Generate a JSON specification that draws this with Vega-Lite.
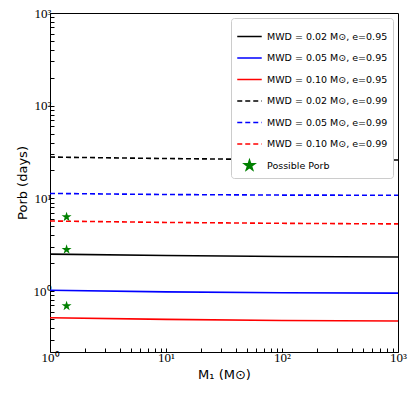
{
  "$schema": "https://vega.github.io/schema/vega-lite/v6.json",
  "width": 348,
  "height": 339,
  "autosize": "none",
  "padding": {"left": 50, "top": 13, "right": 17, "bottom": 46},
  "background": "white",
  "config": {"view": {"stroke": "black"}},
  "encoding": {
    "x": {
      "field": "m1", "type": "quantitative",
      "scale": {"type": "log", "domain": [1, 1000], "nice": false},
      "axis": {
        "orient": "bottom", "grid": false, "domain": false,
        "values": [1,2,3,4,5,6,7,8,9,10,20,30,40,50,60,70,80,90,100,200,300,400,500,600,700,800,900,1000],
        "labelExpr": "datum.value == 1 ? '10⁰' : datum.value == 10 ? '10¹' : datum.value == 100 ? '10²' : datum.value == 1000 ? '10³' : ''",
        "tickSize": -4, "tickColor": "black", "labelColor": "black",
        "labelFont": "Liberation Serif", "labelFontSize": 13, "labelPadding": 3,
        "labelOverlap": false, "labelFlush": false,
        "title": "M₁ (M⊙)", "titleFont": "DejaVu Sans", "titleFontSize": 13,
        "titleFontWeight": "normal", "titleColor": "black", "titlePadding": 4
      }
    },
    "y": {
      "field": "p", "type": "quantitative",
      "scale": {"type": "log", "domain": [0.22, 1000], "nice": false},
      "axis": {
        "orient": "left", "grid": false, "domain": false,
        "values": [0.3,0.4,0.5,0.6,0.7,0.8,0.9,1,2,3,4,5,6,7,8,9,10,20,30,40,50,60,70,80,90,100,200,300,400,500,600,700,800,900,1000],
        "labelExpr": "datum.value == 1 ? '10⁰' : datum.value == 10 ? '10¹' : datum.value == 100 ? '10²' : datum.value == 1000 ? '10³' : ''",
        "tickSize": -4, "tickColor": "black", "labelColor": "black",
        "labelFont": "Liberation Serif", "labelFontSize": 13, "labelPadding": 3,
        "labelOverlap": false, "labelFlush": false,
        "title": "Porb (days)", "titleFont": "DejaVu Sans", "titleFontSize": 13,
        "titleFontWeight": "normal", "titleColor": "black", "titlePadding": 4
      }
    },
    "color": {
      "field": "series", "type": "nominal",
      "scale": {
        "domain": ["MWD = 0.02 M⊙, e=0.95", "MWD = 0.05 M⊙, e=0.95", "MWD = 0.10 M⊙, e=0.95", "MWD = 0.02 M⊙, e=0.99", "MWD = 0.05 M⊙, e=0.99", "MWD = 0.10 M⊙, e=0.99", "Possible Porb"],
        "range": ["#000000", "#0000ff", "#ff0000", "#000000", "#0000ff", "#ff0000", "#008000"]
      },
      "legend": {
        "title": null, "orient": "top-right", "offset": 5,
        "padding": 5, "rowPadding": 3.5, "symbolType": "stroke", "symbolSize": 600, "symbolStrokeWidth": 1.6,
        "labelFont": "DejaVu Sans", "labelFontSize": 9.5, "labelColor": "black",
        "strokeColor": "#cccccc", "fillColor": "white", "cornerRadius": 3,
        "encode": {"symbols": {"update": {
          "shape": {"signal": "datum.label == 'Possible Porb' ? 'M0,-1L0.2245,-0.309L0.9511,-0.309L0.3633,0.118L0.5878,0.809L0,0.382L-0.5878,0.809L-0.3633,0.118L-0.9511,-0.309L-0.2245,-0.309Z' : 'stroke'"},
          "size": {"signal": "datum.label == 'Possible Porb' ? 110 : 600"},
          "fill": {"signal": "datum.label == 'Possible Porb' ? '#008000' : 'transparent'"},
          "stroke": {"signal": "datum.label == 'Possible Porb' ? 'transparent' : ((datum.label == 'MWD = 0.05 M⊙, e=0.95' || datum.label == 'MWD = 0.05 M⊙, e=0.99') ? '#0000ff' : ((datum.label == 'MWD = 0.10 M⊙, e=0.95' || datum.label == 'MWD = 0.10 M⊙, e=0.99') ? '#ff0000' : '#000000'))"},
          "strokeDash": {"signal": "(datum.label == 'MWD = 0.02 M⊙, e=0.99' || datum.label == 'MWD = 0.05 M⊙, e=0.99' || datum.label == 'MWD = 0.10 M⊙, e=0.99') ? [5, 3] : [1, 0]"},
          "opacity": {"value": 1}
        }}}
      }
    }
  },
  "layer": [
    {
      "data": {"values": [
        {"m1": 1, "p": 2.5, "series": "MWD = 0.02 M⊙, e=0.95"},
        {"m1": 10, "p": 2.42, "series": "MWD = 0.02 M⊙, e=0.95"},
        {"m1": 100, "p": 2.36, "series": "MWD = 0.02 M⊙, e=0.95"},
        {"m1": 1000, "p": 2.33, "series": "MWD = 0.02 M⊙, e=0.95"},
        {"m1": 1, "p": 1.02, "series": "MWD = 0.05 M⊙, e=0.95"},
        {"m1": 10, "p": 0.98, "series": "MWD = 0.05 M⊙, e=0.95"},
        {"m1": 100, "p": 0.96, "series": "MWD = 0.05 M⊙, e=0.95"},
        {"m1": 1000, "p": 0.95, "series": "MWD = 0.05 M⊙, e=0.95"},
        {"m1": 1, "p": 0.515, "series": "MWD = 0.10 M⊙, e=0.95"},
        {"m1": 10, "p": 0.495, "series": "MWD = 0.10 M⊙, e=0.95"},
        {"m1": 100, "p": 0.482, "series": "MWD = 0.10 M⊙, e=0.95"},
        {"m1": 1000, "p": 0.475, "series": "MWD = 0.10 M⊙, e=0.95"}
      ]},
      "mark": {"type": "line", "strokeWidth": 1.6}
    },
    {
      "data": {"values": [
        {"m1": 1, "p": 27.9, "series": "MWD = 0.02 M⊙, e=0.99"},
        {"m1": 10, "p": 26.9, "series": "MWD = 0.02 M⊙, e=0.99"},
        {"m1": 100, "p": 26.2, "series": "MWD = 0.02 M⊙, e=0.99"},
        {"m1": 1000, "p": 25.9, "series": "MWD = 0.02 M⊙, e=0.99"},
        {"m1": 1, "p": 11.3, "series": "MWD = 0.05 M⊙, e=0.99"},
        {"m1": 10, "p": 11.0, "series": "MWD = 0.05 M⊙, e=0.99"},
        {"m1": 100, "p": 10.85, "series": "MWD = 0.05 M⊙, e=0.99"},
        {"m1": 1000, "p": 10.8, "series": "MWD = 0.05 M⊙, e=0.99"},
        {"m1": 1, "p": 5.7, "series": "MWD = 0.10 M⊙, e=0.99"},
        {"m1": 10, "p": 5.5, "series": "MWD = 0.10 M⊙, e=0.99"},
        {"m1": 100, "p": 5.38, "series": "MWD = 0.10 M⊙, e=0.99"},
        {"m1": 1000, "p": 5.3, "series": "MWD = 0.10 M⊙, e=0.99"}
      ]},
      "mark": {"type": "line", "strokeWidth": 1.6, "strokeDash": [5, 3]}
    },
    {
      "data": {"values": [
        {"m1": 1.39, "p": 6.3, "series": "Possible Porb"},
        {"m1": 1.39, "p": 2.8, "series": "Possible Porb"},
        {"m1": 1.39, "p": 0.69, "series": "Possible Porb"}
      ]},
      "mark": {"type": "point", "shape": "M0,-1L0.2245,-0.309L0.9511,-0.309L0.3633,0.118L0.5878,0.809L0,0.382L-0.5878,0.809L-0.3633,0.118L-0.9511,-0.309L-0.2245,-0.309Z", "filled": true, "size": 110, "opacity": 1}
    }
  ]
}
